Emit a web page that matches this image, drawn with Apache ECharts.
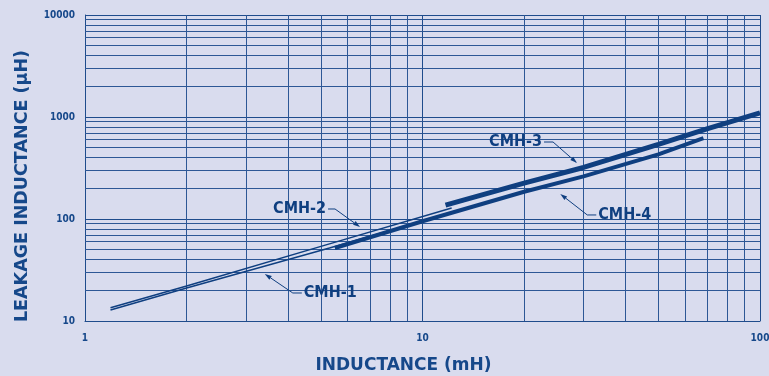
<!DOCTYPE html>
<html><head><meta charset="utf-8">
<script src="https://cdn.jsdelivr.net/npm/echarts@6/dist/echarts.min.js"></script>
<style>html,body{margin:0;padding:0;background:#d9dcee}#c{width:769px;height:376px}</style>
</head><body><div id="c"></div>
<script>
// ---- data ----
const xMinorTicks = [2,3,4,5,6,7,8,9,20,30,40,50,60,70,80,90];
const yMinorTicks = [20,30,40,50,60,70,80,90,200,300,400,500,600,700,800,900,2000,3000,4000,5000,6000,7000,8000,9000];
const cmh1 = [[1.19,12.8],[2,21.1],[5.3,52],[12.2,115]];
const cmh2 = [[1.19,13.5],[2,22],[5.3,57],[12.2,128]];
const cmh3 = [[11.7,137],[20,225],[30,320],[50,540],[70,770],[100,1100]];
const cmh4 = [[5.5,52],[10,95],[20,185],[30,262],[50,430],[68,620]];
const seriesNames = ['CMH-1','CMH-2','CMH-3','CMH-4'];
// annotation tips (data coords on the curves)
const annTips = [[3.41,28.9],[6.53,83.5],[28.7,354],[25.6,176]];

const NAVY = '#0f3f80';
const GRID = '#1f4c8c';
const TXT = '#16488a';
const chart = echarts.init(document.getElementById('c'));
const ml = (arr, key) => arr.map(v => ({[key]: v}));
const option = {
  backgroundColor: '#d9dcee',
  animation: false,
  grid: {left: 85, right: 9, top: 15, bottom: 55, outerBoundsMode: 'none', containLabel: false},
  xAxis: {
    type: 'log', logBase: 10, min: 1, max: 100,
    name: 'INDUCTANCE (mH)', nameLocation: 'middle', nameGap: 36,
    nameTextStyle: {fontFamily: 'DejaVu Sans', fontWeight: 'bold', fontSize: 17, color: TXT, padding: [0, 38, 0, 0]},
    axisLine: {show: true, lineStyle: {color: GRID, width: 1}},
    axisTick: {show: false},
    axisLabel: {fontFamily: 'DejaVu Sans Condensed, DejaVu Sans', fontWeight: 'bold', fontSize: 10, color: TXT, margin: 12,
      formatter: v => String(v)},
    splitLine: {show: true, lineStyle: {color: GRID, width: 1}}
  },
  yAxis: {
    type: 'log', logBase: 10, min: 10, max: 10000,
    name: 'LEAKAGE INDUCTANCE (μH)', nameLocation: 'middle', nameGap: 54, nameRotate: 90,
    nameTextStyle: {fontFamily: 'DejaVu Sans', fontWeight: 'bold', fontSize: 17.5, color: TXT, padding: [0, 36, 0, 0]},
    axisLine: {show: true, lineStyle: {color: GRID, width: 1}},
    axisTick: {show: false},
    axisLabel: {fontFamily: 'DejaVu Sans Condensed, DejaVu Sans', fontWeight: 'bold', fontSize: 10, color: TXT, margin: 10,
      formatter: v => String(v)},
    splitLine: {show: true, lineStyle: {color: GRID, width: 1}}
  },
  series: [
    {name: seriesNames[0], type: 'line', data: cmh1, showSymbol: false, lineStyle: {color: NAVY, width: 1.5}, z: 5,
     markLine: {silent: true, symbol: 'none', label: {show: false}, animation: false,
       lineStyle: {color: '#2d5795', width: 1, type: 'solid'},
       data: ml(xMinorTicks, 'xAxis').concat(ml(yMinorTicks, 'yAxis'))}},
    {name: seriesNames[1], type: 'line', data: cmh2, showSymbol: false, lineStyle: {color: NAVY, width: 1.5}, z: 5},
    {name: seriesNames[2], type: 'line', data: cmh3, showSymbol: false, lineStyle: {color: NAVY, width: 5, cap: 'butt'}, z: 5},
    {name: seriesNames[3], type: 'line', data: cmh4, showSymbol: false, lineStyle: {color: NAVY, width: 4, cap: 'butt'}, z: 5}
  ]
};
chart.setOption(option);

// leader annotations: elbow / end offsets from the tip in px, label align
const annOffsets = [
  {elbow: [28,19], end: [37,19], align: 'left'},
  {elbow: [-25,-18], end: [-32,-18], align: 'right'},
  {elbow: [-24,-21], end: [-33,-21], align: 'right'},
  {elbow: [27,21], end: [36,21], align: 'left'}
];
const graphics = [];
annTips.forEach((tipData, i) => {
  const tip = chart.convertToPixel({seriesIndex: 0}, tipData);
  const o = annOffsets[i];
  const e = [tip[0] + o.elbow[0], tip[1] + o.elbow[1]];
  const en = [tip[0] + o.end[0], tip[1] + o.end[1]];
  const dx = tip[0] - e[0], dy = tip[1] - e[1];
  const L = Math.hypot(dx, dy), ux = dx / L, uy = dy / L;
  const bx = tip[0] - ux * 7, by = tip[1] - uy * 7;
  graphics.push({type: 'polyline', z: 20, shape: {points: [en, e, [bx, by]]}, style: {stroke: NAVY, lineWidth: 1, fill: null}});
  graphics.push({type: 'polygon', z: 20, shape: {points: [tip, [bx - uy * 2.2, by + ux * 2.2], [bx + uy * 2.2, by - ux * 2.2]]}, style: {fill: NAVY}});
  const tx = o.align === 'left' ? en[0] + 2 : en[0] - 2;
  graphics.push({type: 'text', z: 20, x: tx, y: en[1],
    style: {text: seriesNames[i], fill: NAVY, font: 'bold 16px "DejaVu Sans Condensed", "DejaVu Sans"', align: o.align, verticalAlign: 'middle'}});
});
chart.setOption({graphic: graphics});
</script>
</body></html>
